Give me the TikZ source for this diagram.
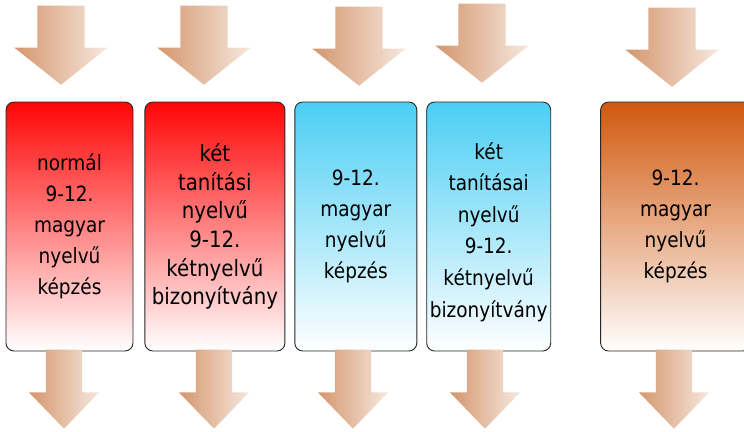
\documentclass[tikz,border=0pt]{standalone}
\usepackage{fontspec}
\setmainfont[FakeStretch=0.88]{DejaVu Sans}
\usetikzlibrary{shapes.arrows, positioning}

\definecolor{boxred}{RGB}{255,6,6}
\definecolor{boxblue}{RGB}{76,206,244}
\definecolor{boxorange}{RGB}{208,88,14}
\definecolor{arrowdark}{RGB}{212,150,110}
\definecolor{arrowlight}{RGB}{246,232,222}

\begin{document}
\begin{tikzpicture}
	[x=1pt, y=-1pt,
	box/.style={draw=black!85, line width=0.9pt, rounded corners=8pt, minimum height=249pt, inner sep=0pt, align=center, font=\fontsize{21}{31}\selectfont},
	red box/.style={box, top color=boxred, bottom color=white},
	blue box/.style={box, top color=boxblue, bottom color=white},
	orange box/.style={box, top color=boxorange, bottom color=white},
	in arrow/.style={single arrow, shape border rotate=270, draw=none, inner xsep=23.5pt, inner ysep=0pt, left color=arrowdark, right color=arrowlight, minimum height=79pt, minimum width=93pt, single arrow head extend=23pt, single arrow tip angle=103, anchor=tip},
	out arrow/.style={single arrow, shape border rotate=270, draw=none, inner xsep=18pt, inner ysep=0pt, left color=arrowdark, right color=arrowlight, minimum height=79pt, minimum width=70pt, single arrow head extend=17pt, single arrow tip angle=88, anchor=tip}]
	\useasboundingbox (0,0) rectangle (744,431);
	% boxes
	\node (B1) [red box, minimum width=127pt] at (69.5,226.5) {normál\\9-12.\\magyar\\nyelvű\\képzés};
	\node (B2) [red box, minimum width=140pt, font=\fontsize{22.5}{28.6}\selectfont, right = 11pt of B1] {két\\tanítási\\nyelvű\\9-12.\\kétnyelvű\\bizonyítvány};
	\node (B3) [blue box, minimum width=122pt, right = 9pt of B2] {9-12.\\magyar\\nyelvű\\képzés};
	\node (B4) [blue box, minimum width=124pt, font=\fontsize{21}{31.6}\selectfont, right = 9pt of B3] {\\[-4pt]két\\tanításai\\nyelvű\\9-12.\\kétnyelvű\\bizonyítvány};
	\node (B5) [orange box, minimum width=150pt, right = 49pt of B4] {9-12.\\magyar\\nyelvű\\képzés};
	% arrows in
	\node (I1) [in arrow] at (61,85) {};
	\node (I2) [in arrow] at (204,85) {};
	\node (I3) [in arrow] at (359,86) {};
	\node (I4) [in arrow] at (482,83) {};
	\node (I5) [in arrow] at (672,87) {};
	% arrows out
	\node (O1) [out arrow] at (64,429) {};
	\node (O2) [out arrow] at (214,429) {};
	\node (O3) [out arrow] at (353,429) {};
	\node (O4) [out arrow] at (485,429) {};
	\node (O5) [out arrow] at (674,429) {};
\end{tikzpicture}
\end{document}
